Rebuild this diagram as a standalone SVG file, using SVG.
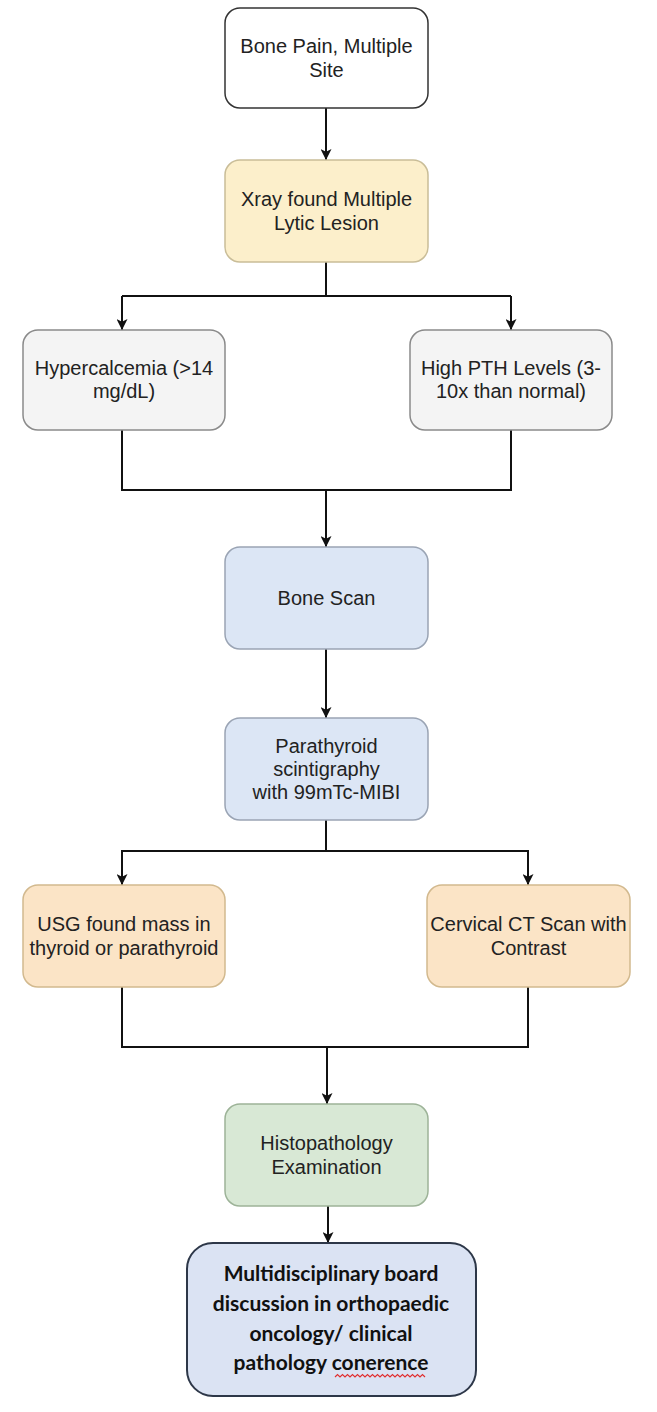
<svg xmlns="http://www.w3.org/2000/svg" width="657" height="1412" viewBox="0 0 657 1412">
<defs>
<marker id="arr" viewBox="0 0 10 10" refX="10" refY="5" markerWidth="5.5" markerHeight="5.5" orient="auto" markerUnits="strokeWidth">
<path d="M0,0 L10,5 L0,10 L2.5,5 Z" fill="#111"/>
</marker>
<style>
.t{font-family:"Liberation Sans",Arial,sans-serif;font-size:20px;fill:#222;text-anchor:middle}
.b{font-family:Lato,"Liberation Sans",sans-serif;font-size:21px;font-weight:bold;fill:#111;text-anchor:middle}
.c{fill:none;stroke:#111;stroke-width:2}
.ca{fill:none;stroke:#111;stroke-width:2;marker-end:url(#arr)}
.white{fill:#ffffff;stroke:#333;stroke-width:1.5}
.yel{fill:#fcefcb;stroke:#c9bd98;stroke-width:1.5}
.gry{fill:#f4f4f4;stroke:#8a8a8a;stroke-width:1.5}
.blu{fill:#dce6f5;stroke:#9aa4b4;stroke-width:1.5}
.org{fill:#fbe4c6;stroke:#d2b98e;stroke-width:1.5}
.grn{fill:#d8e8d5;stroke:#9db398;stroke-width:1.5}
.fin{fill:#dbe3f3;stroke:#2d3748;stroke-width:2}
</style>
</defs>
<rect width="657" height="1412" fill="#ffffff"/>
<g id="connectors">
<path class="ca" d="M326,108 V160"/>
<path class="c" d="M326,262 V296"/>
<path class="ca" d="M122,296 H326 M122,296 V330"/>
<path class="ca" d="M511,296 H326 M511,296 V330"/>
<path class="c" d="M122,430 V490 H511 V430"/>
<path class="ca" d="M326,490 V547"/>
<path class="ca" d="M326,649 V718"/>
<path class="c" d="M326,820 V851"/>
<path class="ca" d="M326,851 H122 V885"/>
<path class="ca" d="M326,851 H528 V885"/>
<path class="c" d="M122,987 V1047 H528 V987"/>
<path class="ca" d="M327,1047 V1104"/>
<path class="ca" d="M328,1200 V1243"/>
</g>
<g id="n1"><rect class="white" x="225" y="8" width="203" height="100" rx="15"/>
<text class="t" x="326.5" y="53">Bone Pain, Multiple</text><text class="t" x="326.5" y="77">Site</text></g>
<g id="n2"><rect class="yel" x="225" y="160" width="203" height="102" rx="15"/>
<text class="t" x="326.5" y="206">Xray found Multiple</text><text class="t" x="326.5" y="230">Lytic Lesion</text></g>
<g id="n3"><rect class="gry" x="23" y="330" width="202" height="100" rx="15"/>
<text class="t" x="124" y="375">Hypercalcemia (&gt;14</text><text class="t" x="124" y="398">mg/dL)</text></g>
<g id="n4"><rect class="gry" x="410" y="330" width="202" height="100" rx="15"/>
<text class="t" x="511" y="375">High PTH Levels (3-</text><text class="t" x="511" y="398">10x than normal)</text></g>
<g id="n5"><rect class="blu" x="225" y="547" width="203" height="102" rx="15"/>
<text class="t" x="326.5" y="605">Bone Scan</text></g>
<g id="n6"><rect class="blu" x="225" y="718" width="203" height="102" rx="15"/>
<text class="t" x="326.5" y="753">Parathyroid</text><text class="t" x="326.5" y="776">scintigraphy</text><text class="t" x="326.5" y="799">with 99mTc-MIBI</text></g>
<g id="n7"><rect class="org" x="23" y="885" width="202" height="102" rx="15"/>
<text class="t" x="124" y="931">USG found mass in</text><text class="t" x="124" y="955">thyroid or parathyroid</text></g>
<g id="n8"><rect class="org" x="427" y="885" width="203" height="102" rx="15"/>
<text class="t" x="528.5" y="931">Cervical CT Scan with</text><text class="t" x="528.5" y="955">Contrast</text></g>
<g id="n9"><rect class="grn" x="225" y="1104" width="203" height="102" rx="15"/>
<text class="t" x="326.5" y="1150">Histopathology</text><text class="t" x="326.5" y="1174">Examination</text></g>
<g id="n10"><rect class="fin" x="187" y="1243" width="289" height="153" rx="26"/>
<text class="b" x="331" y="1281">Multidisciplinary board</text>
<text class="b" x="331" y="1311">discussion in orthopaedic</text>
<text class="b" x="331" y="1341">oncology/ clinical</text>
<text class="b" x="331" y="1370">pathology conerence</text>
<path d="M335,1377 l2.5,-2.5 l2.5,2.5 l2.5,-2.5 l2.5,2.5 l2.5,-2.5 l2.5,2.5 l2.5,-2.5 l2.5,2.5 l2.5,-2.5 l2.5,2.5 l2.5,-2.5 l2.5,2.5 l2.5,-2.5 l2.5,2.5 l2.5,-2.5 l2.5,2.5 l2.5,-2.5 l2.5,2.5 l2.5,-2.5 l2.5,2.5 l2.5,-2.5 l2.5,2.5 l2.5,-2.5 l2.5,2.5 l2.5,-2.5 l2.5,2.5 l2.5,-2.5 l2.5,2.5 l2.5,-2.5 l2.5,2.5 l2.5,-2.5 l2.5,2.5 l2.5,-2.5 l2.5,2.5 l2.5,-2.5 l2.5,2.5" fill="none" stroke="#e03030" stroke-width="1.2"/>
</g>
</svg>
